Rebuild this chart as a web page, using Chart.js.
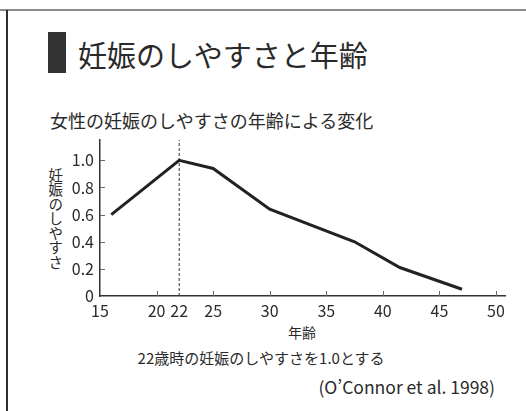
<!DOCTYPE html>
<html lang="ja">
<head>
<meta charset="utf-8">
<script src="https://cdn.jsdelivr.net/npm/chart.js@4.4.1/dist/chart.umd.min.js"></script>
<style>
  html, body { margin: 0; padding: 0; background: #fff; }
  body {
    width: 526px; height: 411px; position: relative; overflow: hidden;
    font-family: "Noto Sans CJK JP", "Noto Sans", sans-serif; color: #2a2a2a;
  }
  #wrap { position: absolute; left: 0; top: 0; width: 526px; height: 411px; }
  .frame-top { position: absolute; left: 0; top: 9px; width: 526px; height: 2px; background: #8c8c8c; }
  .frame-left { position: absolute; left: 6px; top: 10px; width: 2px; height: 401px; background: #2e2e2e; }
  .mark { position: absolute; left: 48px; top: 32px; width: 18px; height: 41px; background: #333; }
  .txt { position: absolute; white-space: nowrap; line-height: 1; }
  .title { left: 78px; top: 54px; transform: translateY(-50%); font-size: 29px; }
  .subtitle { left: 50px; top: 120px; transform: translateY(-50%); font-size: 18px; }
  .ylabel {
    left: 55px; top: 168px; transform: translateX(-50%);
    writing-mode: vertical-rl; text-orientation: upright; font-size: 14.5px;
  }
  .xlabel { left: 302px; top: 332px; transform: translate(-50%, -50%); font-size: 14px; }
  .note { left: 261px; top: 357px; transform: translate(-50%, -50%); font-size: 15px; }
  .source { right: 31px; top: 387px; transform: translateY(-50%); font-size: 17.5px; }
</style>
</head>
<body>
<div class="frame-top"></div>
<div class="frame-left"></div>
<div class="mark"></div>
<div class="txt title">妊娠のしやすさと年齢</div>
<div class="txt subtitle">女性の妊娠のしやすさの年齢による変化</div>
<div class="txt ylabel">妊娠のしやすさ</div>
<div class="txt xlabel">年齢</div>
<div class="txt note">22歳時の妊娠のしやすさを1.0とする</div>
<div class="txt source">(O’Connor et al. 1998)</div>
<div id="wrap"><canvas id="chart" width="526" height="411"></canvas></div>
<script>
// Relative fertility by age (value at age 22 = 1.0)
const ages = [16, 22, 25, 30, 37.5, 41.5, 47];
const fertility = [0.6, 1.0, 0.94, 0.64, 0.40, 0.21, 0.05];

// Axis ticks
const xTickValues = [15, 20, 22, 25, 30, 35, 40, 45, 50];
const yTickValues = [0, 0.2, 0.4, 0.6, 0.8, 1.0];

// Age used as the reference point (dashed guide)
const referenceAge = 22;

const X_MIN = 15, X_MAX = 50.8, Y_MIN = 0, Y_MAX = 1.15;
const FONT = '"Noto Sans CJK JP", "Noto Sans", sans-serif';
const INK = '#2a2a2a';

// Short tick marks drawn on the inner side of each axis
const innerTicks = {
  id: 'innerTicks',
  afterDatasetsDraw(chart) {
    const { ctx, scales: { x, y } } = chart;
    ctx.save();
    ctx.strokeStyle = '#666';
    ctx.lineWidth = 1;
    x.ticks.forEach(t => {
      if (t.value === X_MIN || t.value === referenceAge) return;
      const px = Math.round(x.getPixelForValue(t.value)) + 0.5;
      ctx.beginPath();
      ctx.moveTo(px, x.top);
      ctx.lineTo(px, x.top - 5);
      ctx.stroke();
    });
    y.ticks.forEach(t => {
      if (t.value === Y_MIN) return;
      const py = Math.round(y.getPixelForValue(t.value)) + 0.5;
      ctx.beginPath();
      ctx.moveTo(y.right, py);
      ctx.lineTo(y.right + 5, py);
      ctx.stroke();
    });
    ctx.restore();
  }
};

new Chart(document.getElementById('chart'), {
  type: 'line',
  data: {
    datasets: [
      {
        data: ages.map((a, i) => ({ x: a, y: fertility[i] })),
        borderColor: '#222',
        borderWidth: 3,
        pointRadius: 0,
        tension: 0,
        fill: false
      },
      {
        data: [{ x: referenceAge, y: Y_MIN }, { x: referenceAge, y: Y_MAX }],
        borderColor: '#333',
        borderWidth: 1,
        borderDash: [3, 2],
        pointRadius: 0,
        fill: false
      }
    ]
  },
  options: {
    responsive: false,
    animation: false,
    events: [],
    layout: { padding: { left: 40, right: 21, top: 140, bottom: 85 } },
    plugins: { legend: { display: false }, tooltip: { enabled: false }, title: { display: false } },
    scales: {
      x: {
        type: 'linear',
        min: X_MIN, max: X_MAX,
        afterBuildTicks: s => { s.ticks = xTickValues.map(v => ({ value: v })); },
        afterFit: s => { s.height = 30; },
        grid: { display: false, drawTicks: false },
        border: { display: true, color: '#333', width: 1.5 },
        ticks: {
          autoSkip: false, maxRotation: 0, padding: 5,
          color: INK, font: { family: FONT, size: 16 },
          callback: v => String(v)
        }
      },
      y: {
        type: 'linear',
        min: Y_MIN, max: Y_MAX,
        afterBuildTicks: s => { s.ticks = yTickValues.map(v => ({ value: v })); },
        afterFit: s => { s.width = 60; },
        grid: { display: false, drawTicks: false },
        border: { display: true, color: '#333', width: 1.5 },
        ticks: {
          padding: 6,
          color: INK, font: { family: FONT, size: 16 },
          callback: v => (v === 0 ? '0' : v.toFixed(1))
        }
      }
    }
  },
  plugins: [innerTicks]
});
</script>
</body>
</html>
